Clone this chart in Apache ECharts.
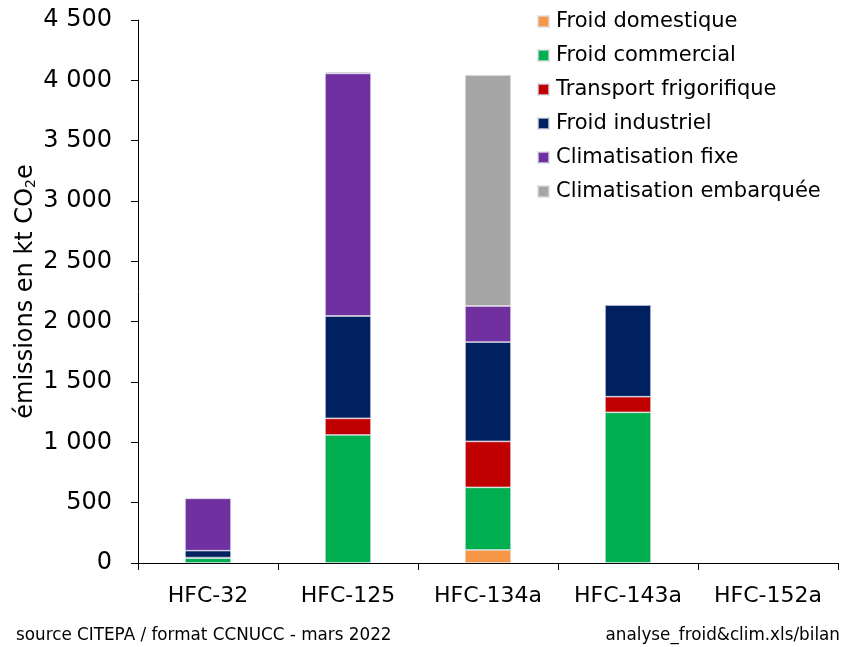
<!DOCTYPE html>
<html><head><meta charset="utf-8">
<script src="https://cdn.jsdelivr.net/npm/echarts@6/dist/echarts.min.js"></script>
<style>html,body{margin:0;padding:0;background:#fff}#c{width:842px;height:647px}</style>
</head><body><div id="c"></div>
<script>
const categories = ['HFC-32','HFC-125','HFC-134a','HFC-143a','HFC-152a'];
const seriesNames = ['Froid domestique','Froid commercial','Transport frigorifique','Froid industriel','Climatisation fixe','Climatisation embarquée'];
const froidDomestique = [0, 0, 108, 0, 0];
const froidCommercial = [40, 1061, 519, 1249, 0];
const transportFrigorifique = [5, 138, 381, 129, 0];
const froidIndustriel = [57, 848, 823, 760, 0];
const climatisationFixe = [434, 2010, 299, 0, 0];
const climatisationEmbarquee = [0, 12, 1914, 0, 0];
const yTicks = [0, 500, 1000, 1500, 2000, 2500, 3000, 3500, 4000, 4500];
const colors = ['#F79646','#00B050','#C00000','#002060','#7030A0','#A6A6A6'];
const values = [froidDomestique, froidCommercial, transportFrigorifique, froidIndustriel, climatisationFixe, climatisationEmbarquee];
const FONT = 'DejaVu Sans';
const chart = echarts.init(document.getElementById('c'), null, {renderer:'canvas'});
chart.setOption({
  animation:false,
  textStyle:{fontFamily:FONT, color:'#000'},
  color: colors,
  grid:{left:138, right:4, top:20, bottom:84, containLabel:false},
  legend:{
    orient:'vertical', left:532, top:6,
    itemWidth:11, itemHeight:11, itemGap:13,
    icon:'rect',
    textStyle:{fontFamily:FONT, fontSize:21, color:'#000', padding:[0,0,0,2]},
    data: seriesNames
  },
  xAxis:{
    type:'category', data:categories,
    axisLine:{lineStyle:{color:'#000', width:1}},
    axisTick:{show:true, length:7, interval:0, lineStyle:{color:'#000'}},
    axisLabel:{fontFamily:FONT, fontSize:22, color:'#000', margin:22, interval:0}
  },
  yAxis:{
    type:'value', min:yTicks[0], max:yTicks[yTicks.length-1], interval:500,
    name:'émissions en kt CO{sub|2}e',
    nameLocation:'middle', nameGap:100, nameRotate:90, nameMoveOverlap:false,
    nameTextStyle:{fontFamily:FONT, fontSize:24, color:'#000',
      rich:{sub:{fontFamily:FONT, fontSize:14, color:'#000', verticalAlign:'bottom', padding:[9,0,0,0]}}},
    axisLine:{show:true, lineStyle:{color:'#000', width:1}},
    axisTick:{show:true, length:7, lineStyle:{color:'#000'}},
    splitLine:{show:false},
    axisLabel:{fontFamily:FONT, fontSize:24, color:'#000', margin:26,
      formatter:v=>String(v).replace(/\B(?=(\d{3})+(?!\d))/g,' ')}
  },
  series: seriesNames.map((n,i)=>({
    name:n, type:'bar', stack:'t', barWidth:46,
    data:values[i].map(v=>v===0?'-':v),
    itemStyle:{color:colors[i], borderColor:'rgba(220,220,230,0.7)', borderWidth:0.8}
  })),
  graphic:[
    {type:'text', left:16, top:627, style:{text:'source CITEPA / format CCNUCC - mars 2022', font:'16.8px "DejaVu Sans"', fill:'#000'}},
    {type:'text', right:2, top:627, style:{text:'analyse_froid&clim.xls/bilan', font:'16.8px "DejaVu Sans"', fill:'#000'}}
  ]
});
</script></body></html>
